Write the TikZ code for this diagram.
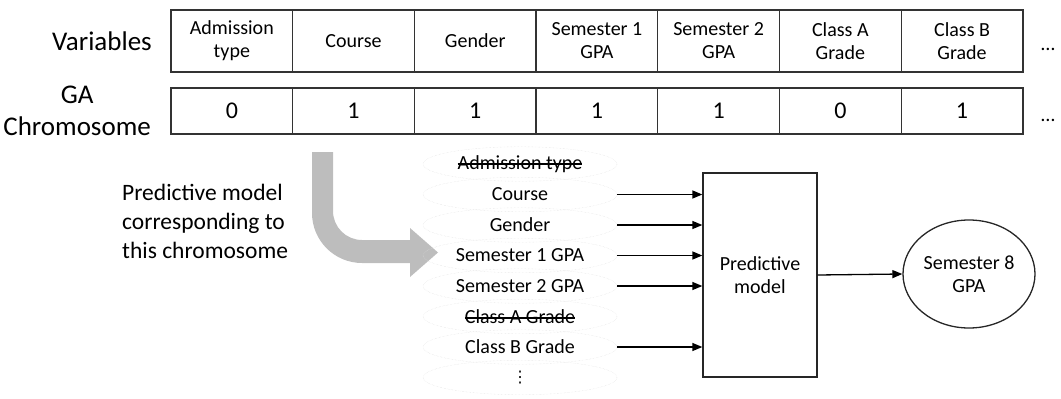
\documentclass[tikz,border=0pt]{standalone}
\usepackage{fontspec}
\setmainfont{Carlito}
\newfontfamily\symfont{DejaVu Sans}
\usetikzlibrary{shapes.geometric, arrows.meta, positioning}
\newcommand\struck[1]{\sbox0{#1}\rlap{\usebox0}\rule[0.24em]{\wd0}{1.2pt}}

\begin{document}
\begin{tikzpicture}[
    x=1pt, y=-1pt,
    varcell/.style={rectangle, draw=black!80, line width=1.3pt, outer sep=0pt, minimum width=121.7pt, minimum height=62pt, align=center, font=\fontsize{20}{23}\selectfont},
    genecell/.style={varcell, minimum height=46pt, font=\fontsize{24}{28}\selectfont},
    rowlabel/.style={inner sep=0pt, align=center, font=\fontsize{27}{32}\selectfont},
    item/.style={ellipse, draw=black!13, densely dotted, outer sep=0pt, minimum width=194pt, minimum height=34.5pt, inner sep=0pt, font=\fontsize{20}{23}\selectfont},
    modelbox/.style={rectangle, draw=black!85, line width=1.3pt, minimum width=114pt, minimum height=204pt, align=center, font=\fontsize{20}{23}\selectfont},
    outcome/.style={ellipse, draw=black!85, line width=1.3pt, minimum width=132pt, minimum height=108pt, inner sep=0pt, align=center, font=\fontsize{20}{23}\selectfont},
    arrow/.style={-{Triangle[length=10pt,width=8pt]}, line width=1.3pt, draw=black}
]
\useasboundingbox (0,0) rectangle (1061,399);

% variables and chromosome
\node (v1) [varcell] at (231.85,41) {Admission\\type};
\node (v2) [varcell, right=0pt of v1] {Course};
\node (v3) [varcell, right=0pt of v2] {Gender};
\node (v4) [varcell, right=0pt of v3] {Semester 1\\GPA};
\node (v5) [varcell, right=0pt of v4] {Semester 2\\GPA};
\node (v6) [varcell, right=0pt of v5] {Class A\\Grade};
\node (v7) [varcell, right=0pt of v6] {Class B\\Grade};
\node (g1) [genecell, below=16pt of v1] {0};
\node (g2) [genecell, right=0pt of g1] {1};
\node (g3) [genecell, right=0pt of g2] {1};
\node (g4) [genecell, right=0pt of g3] {1};
\node (g5) [genecell, right=0pt of g4] {1};
\node (g6) [genecell, right=0pt of g5] {0};
\node (g7) [genecell, right=0pt of g6] {1};
\node (vmore) [font=\fontsize{20}{23}\selectfont] at (1048,49) {\dots};
\node (gmore) [font=\fontsize{20}{23}\selectfont] at (1048,120) {\dots};
\node (varlabel) [rowlabel, left=19pt of v1] {Variables};
\node (galabel) [rowlabel, left=20pt of g1] {GA\\Chromosome};

% selected model
\node (caption) [anchor=west, align=left, inner sep=0pt, font=\fontsize{23.5}{29}\selectfont] at (122,221) {Predictive model\\corresponding to\\this chromosome};
\fill [black!26] (312,152) -- (312,213) .. controls (312,240.6) and (334.4,263) .. (362,263)
    -- (410,263) -- (410,277) -- (438,252.5) -- (410,228) -- (410,240) -- (362,240)
    .. controls (346,240) and (333,227) .. (333,211) -- (333,152) -- cycle;

\node (adm) [item] at (520,164) {\struck{Admission type}};
\node (course) [item, below=-4pt of adm] {Course};
\node (gender) [item, below=-4pt of course] {Gender};
\node (sem1) [item, below=-4pt of gender] {Semester 1 GPA};
\node (sem2) [item, below=-4pt of sem1] {Semester 2 GPA};
\node (classa) [item, below=-4pt of sem2] {\struck{Class A Grade}};
\node (classb) [item, below=-4pt of classa] {Class B Grade};
\node (more) [item, below=-4pt of classb] {{\symfont\fontsize{16}{18}\selectfont ⋮}};

\node (model) [modelbox] at (760,275) {Predictive\\model};
\node (target) [outcome] at (969,274) {Semester 8\\GPA};

\draw [arrow] (course.east) -- (course.east -| model.west);
\draw [arrow] (gender.east) -- (gender.east -| model.west);
\draw [arrow] (sem1.east) -- (sem1.east -| model.west);
\draw [arrow] (sem2.east) -- (sem2.east -| model.west);
\draw [arrow] (classb.east) -- (classb.east -| model.west);
\draw [arrow] (model.east) -- (target.west);
\end{tikzpicture}
\end{document}
